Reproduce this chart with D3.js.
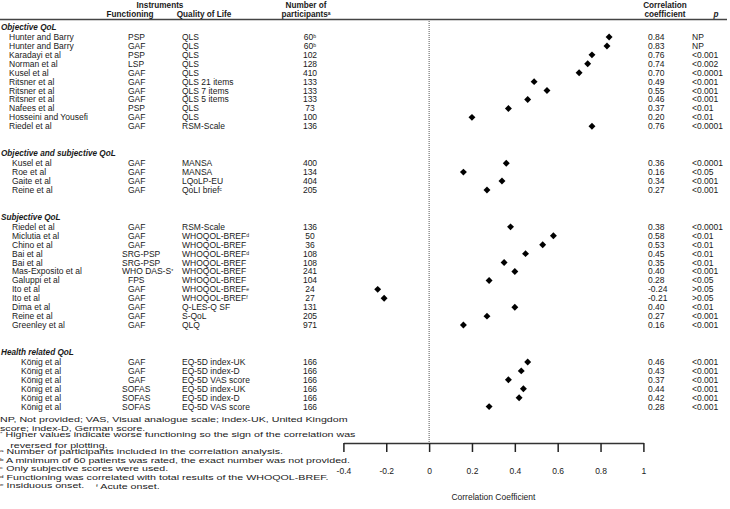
<!DOCTYPE html>
<html><head><meta charset="utf-8">
<script src="https://cdn.jsdelivr.net/npm/d3@7"></script>
<style>
html,body{margin:0;padding:0;background:#fff;}
svg{display:block;font-family:"Liberation Sans",Arial,sans-serif;}
text{white-space:pre;}
</style></head>
<body>
<svg id="c" width="730" height="509"></svg>
<script>
const sectionNames = ["Objective QoL","Objective and subjective QoL","Subjective QoL","Health related QoL"];
const sectionCounts = [11,4,12,6];
const studies = ["Hunter and Barry","Hunter and Barry","Karadayi et al","Norman et al","Kusel et al","Ritsner et al","Ritsner et al","Ritsner et al","Nafees et al","Hosseini and Yousefi","Riedel et al",
 "Kusel et al","Roe et al","Gaite et al","Reine et al",
 "Riedel et al","Miclutia et al","Chino et al","Bai et al","Bai et al","Mas-Exposito et al","Galuppi et al","Ito et al","Ito et al","Dima et al","Reine et al","Greenley et al",
 "König et al","König et al","König et al","König et al","König et al","König et al"];
const functioning = ["PSP","GAF","PSP","LSP","GAF","GAF","GAF","GAF","PSP","GAF","GAF",
 "GAF","GAF","GAF","GAF",
 "GAF","GAF","GAF","SRG-PSP","SRG-PSP","WHO DAS-S","FPS","GAF","GAF","GAF","GAF","GAF",
 "GAF","GAF","GAF","SOFAS","SOFAS","SOFAS"];
const functioningNotes = ["","","","","","","","","","","", "","","","", "","","","","","*","","","","","","", "","","","","",""];
const qualityOfLife = ["QLS","QLS","QLS","QLS","QLS","QLS 21 items","QLS 7 items","QLS 5 items","QLS","QLS","RSM-Scale",
 "MANSA","MANSA","LQoLP-EU","QoLI brief",
 "RSM-Scale","WHOQOL-BREF","WHOQOL-BREF","WHOQOL-BREF","WHOQOL-BREF","WHOQOL-BREF","WHOQOL-BREF","WHOQOL-BREF","WHOQOL-BREF","Q-LES-Q SF","S-QoL","QLQ",
 "EQ-5D index-UK","EQ-5D index-D","EQ-5D VAS score","EQ-5D index-UK","EQ-5D index-D","EQ-5D VAS score"];
const qolNotes = ["","","","","","","","","","","", "","","","c", "","d","","d","","","","e","f","","","", "","","","","",""];
const participants = [60,60,102,128,410,133,133,133,73,100,136, 400,134,404,205, 136,50,36,108,108,241,104,24,27,131,205,971, 166,166,166,166,166,166];
const participantNotes = ["b","b","","","","","","","","","", "","","","", "","","","","","","","","","","","", "","","","","",""];
const correlations = [0.84,0.83,0.76,0.74,0.70,0.49,0.55,0.46,0.37,0.20,0.76,
 0.36,0.16,0.34,0.27,
 0.38,0.58,0.53,0.45,0.35,0.40,0.28,-0.24,-0.21,0.40,0.27,0.16,
 0.46,0.43,0.37,0.44,0.42,0.28];
const pValues = ["NP","NP","<0.001","<0.002","<0.0001","<0.001","<0.001","<0.001","<0.01","<0.01","<0.0001",
 "<0.0001","<0.05","<0.001","<0.001",
 "<0.0001","<0.01","<0.01","<0.01","<0.01","<0.001","<0.05",">0.05",">0.05","<0.01","<0.001","<0.001",
 "<0.001","<0.001","<0.001","<0.001","<0.001","<0.001"];
const xTicks = [-0.4,-0.2,0,0.2,0.4,0.6,0.8,1];
const xTickLabels = ["-0.4","-0.2","0","0.2","0.4","0.6","0.8","1"];
const axisTitle = "Correlation Coefficient";
const footnotes = [
 {sup:"", text:"NP, Not provided; VAS, Visual analogue scale; index-UK, United Kingdom"},
 {sup:"", text:"score; index-D, German score."},
 {sup:"*", text:" Higher values indicate worse functioning so the sign of the correlation was"},
 {sup:"", text:"  reversed for plotting."},
 {sup:"a", text:" Number of participants included in the correlation analysis."},
 {sup:"b", text:" A minimum of 60 patients was rated, the exact number was not provided."},
 {sup:"c", text:" Only subjective scores were used."},
 {sup:"d", text:" Functioning was correlated with total results of the WHOQOL-BREF."},
 {sup:"e", text:" Insiduous onset.    ", sup2:"f", text2:" Acute onset."}
];

// ---------- layout ----------
const svg = d3.select("#c");
const FS = 8.5;
const HFS = 8.2;
const ink = "#1a1a1a";
const x = d3.scaleLinear().domain([-0.4,1]).range([343.4,643.4]);
const sectionGap = 3.13;
const yRow = d3.scaleLinear().domain([0,1]).range([37,37+8.93]);
const sectionIndent = [9,12,12,21];
const colFunc = 128, colFuncWide = 122, colQol = 182, colN = 310, colCorr = 648, colP = 692;

const rows = [];
let k = 0;
sectionCounts.forEach((cnt, s) => {
  for (let i = 0; i < cnt; i++) { rows.push({idx:k, section:s, slot:k + sectionGap*s}); k++; }
});
const firstRowSlot = sectionCounts.map((c,s)=>rows.find(r=>r.section===s).slot);

function txt(g, xx, yy, str, opts={}) {
  const size = opts.size || FS;
  const t = g.append("text").attr("x", xx).attr("y", yy).attr("dy","0.35em")
    .attr("font-size", size).attr("fill", ink)
    .attr("text-anchor", opts.anchor || "start");
  if (opts.weight) t.attr("font-weight", opts.weight);
  if (opts.style) t.attr("font-style", opts.style);
  t.append("tspan").text(str);
  if (opts.sup) t.append("tspan").attr("font-size", size*0.6).attr("dy","-0.35em").text(opts.sup);
  return t;
}

// header
const hdr = svg.append("g");
const h1 = 4.8, h2 = 14.2;
txt(hdr, 160, h1, "Instruments", {weight:"bold", anchor:"middle", size:HFS});
txt(hdr, 130, h2, "Functioning", {weight:"bold", anchor:"middle", size:HFS});
txt(hdr, 204, h2, "Quality of Life", {weight:"bold", anchor:"middle", size:HFS});
txt(hdr, 306, h1, "Number of", {weight:"bold", anchor:"middle", size:HFS});
txt(hdr, 306, h2, "participants", {weight:"bold", anchor:"middle", sup:"a", size:HFS});
txt(hdr, 665, h1, "Correlation", {weight:"bold", anchor:"middle", size:HFS});
txt(hdr, 665, h2, "coefficient", {weight:"bold", anchor:"middle", size:HFS});
txt(hdr, 716, h2, "p", {weight:"bold", style:"italic", anchor:"middle", size:HFS});
svg.append("line").attr("x1",0).attr("x2",727).attr("y1",19.5).attr("y2",19.5)
  .attr("stroke","#444").attr("stroke-width",1.5);

// dotted zero line
svg.append("line").attr("x1",x(0)).attr("x2",x(0)).attr("y1",21).attr("y2",443)
  .attr("stroke","#555").attr("stroke-width",1).attr("stroke-dasharray","1,1");

// section headers
const secG = svg.append("g");
sectionNames.forEach((n,s)=>{
  txt(secG, 1, yRow(firstRowSlot[s]) - 9.7, n, {weight:"bold", style:"italic", size:HFS});
});

// rows
const rowG = svg.append("g");
rows.forEach(r=>{
  const i = r.idx, yy = yRow(r.slot);
  txt(rowG, sectionIndent[r.section], yy, studies[i]);
  const ft = txt(rowG, colFunc, yy, functioning[i], {sup:functioningNotes[i]});
  if (ft.node().getComputedTextLength() > 25) ft.attr("x", colFuncWide);
  txt(rowG, colQol, yy, qualityOfLife[i], {sup:qolNotes[i]});
  txt(rowG, colN, yy, String(participants[i]), {anchor:"middle", sup:participantNotes[i]});
  txt(rowG, colCorr, yy, correlations[i].toFixed(2));
  txt(rowG, colP, yy, pValues[i]);
});

// markers
const sym = d3.symbol().type(d3.symbolSquare).size(24);
svg.append("g").selectAll("path").data(rows).join("path")
  .attr("d", sym)
  .attr("transform", r=>`translate(${x(correlations[r.idx])},${yRow(r.slot)}) rotate(45)`)
  .attr("fill","#000");

// axis
const axG = svg.append("g").attr("transform","translate(0,443)");
const axis = d3.axisBottom(x).tickValues(xTicks).tickFormat((d,i)=>xTickLabels[i]).tickSize(9).tickSizeOuter(0).tickPadding(16);
axG.call(axis);
axG.select(".domain").attr("stroke","#333").attr("stroke-width",1.5);
axG.selectAll(".tick line").attr("stroke","#222").attr("stroke-width",1.5);
axG.selectAll(".tick text").attr("font-size",FS).attr("fill",ink).attr("font-family","Liberation Sans, Arial, sans-serif");
txt(svg, x(0.3), 497, axisTitle, {anchor:"middle"});

// footnotes (horizontally stretched, as in the reference)
const FNS = 7.35;
const fnG = svg.append("g").attr("transform","scale(1.455,1)");
footnotes.forEach((f,i)=>{
  const t = fnG.append("text").attr("x", i===3 ? 3 : 0).attr("y",419.5 + i*8.5).attr("dy","0.35em")
    .attr("font-size",FNS).attr("fill",ink);
  if (f.sup) t.append("tspan").attr("font-size",FNS*0.6).attr("dy","-0.3em").text(f.sup);
  t.append("tspan").attr("dy", f.sup ? "0.3em" : null).text(f.text);
  if (f.sup2) {
    t.append("tspan").attr("font-size",FNS*0.6).attr("dy","-0.3em").text(f.sup2);
    t.append("tspan").attr("dy","0.3em").text(f.text2);
  }
});
</script>
</body></html>
